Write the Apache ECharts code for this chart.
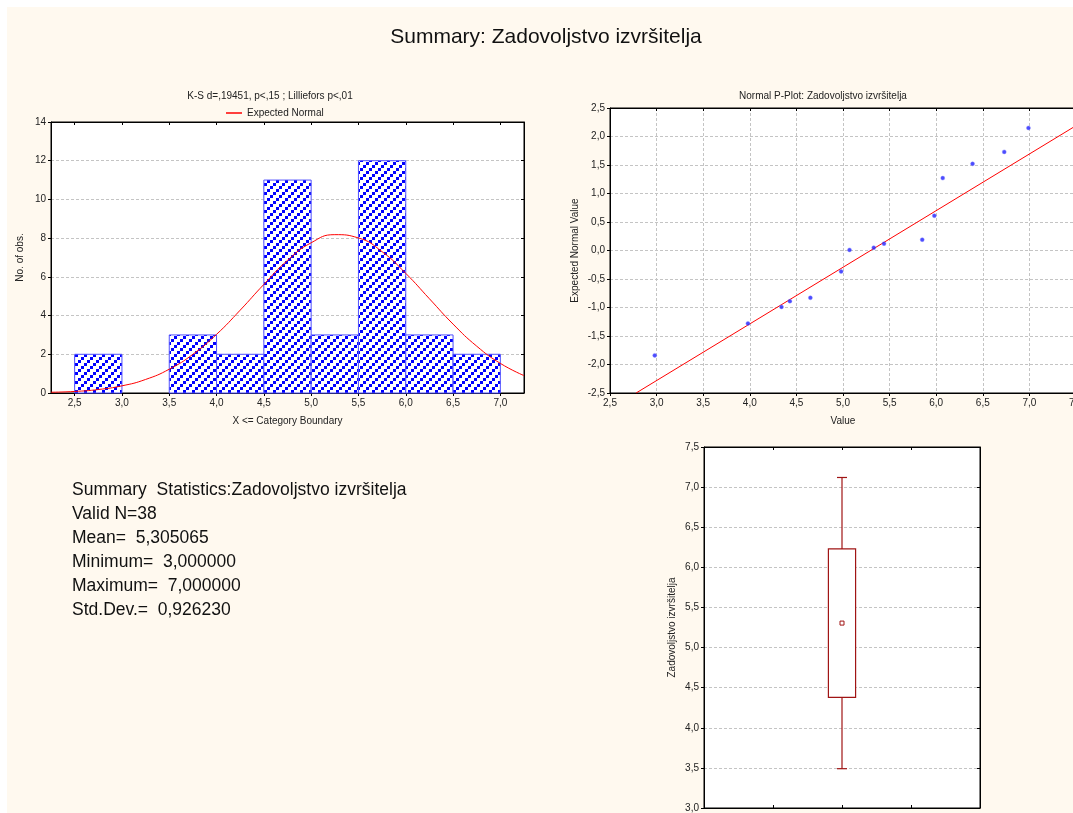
<!DOCTYPE html>
<html>
<head>
<meta charset="utf-8">
<title>Summary: Zadovoljstvo izvršitelja</title>
<script src="https://cdn.jsdelivr.net/npm/echarts@6/dist/echarts.min.js"></script>
<style>
  html, body { margin: 0; padding: 0; background: #ffffff; }
  #panel { position: absolute; left: 7px; top: 7px; right: 0; bottom: 0; background: #fff9ef; }
  #chart { position: absolute; left: 0; top: 0; width: 1073px; height: 813px; }
</style>
</head>
<body>
<div id="panel"></div>
<div id="chart"></div>
<script>
// ---- Histogram: bins of width 0,5 and observed counts ----
const binLow   = [2.5, 3.0, 3.5, 4.0, 4.5, 5.0, 5.5, 6.0, 6.5];
const binHigh  = [3.0, 3.5, 4.0, 4.5, 5.0, 5.5, 6.0, 6.5, 7.0];
const binCount = [2, 0, 3, 2, 11, 3, 12, 3, 2];

// Expected normal curve (expected counts per bin)
const curveX = [2.25, 2.5, 2.75, 3.0, 3.25, 3.5, 3.75, 4.0, 4.25, 4.5, 4.75, 5.0,
                5.25, 5.5, 5.75, 6.0, 6.25, 6.5, 6.75, 7.0, 7.25];
const curveY = [0.04, 0.08, 0.18, 0.37, 0.70, 1.23, 2.00, 3.03, 4.28, 5.61, 6.85, 7.76,
                8.18, 8.01, 7.30, 6.18, 4.87, 3.56, 2.42, 1.53, 0.90];

const histTicks = [2.5, 3.0, 3.5, 4.0, 4.5, 5.0, 5.5, 6.0, 6.5, 7.0];

// ---- Normal probability plot ----
const ppValue    = [2.98, 3.98, 4.34, 4.43, 4.65, 4.98, 5.07, 5.33, 5.44, 5.85, 5.98, 6.07, 6.39, 6.73, 6.99];
const ppExpected = [-1.84, -1.28, -0.99, -0.89, -0.83, -0.37, 0.01, 0.05, 0.12, 0.19, 0.61, 1.27, 1.52, 1.73, 2.15];
const ppLineX = [2.78, 7.5];
const ppLineY = [-2.5, 2.19];

// ---- Box plot: whisker low, box low, mean, box high, whisker high ----
const boxStats = [3.49, 4.38, 5.305, 6.23, 7.12];

// ---- Summary statistics block ----
const summaryLines = [
  'Summary  Statistics:Zadovoljstvo izvršitelja',
  'Valid N=38',
  'Mean=  5,305065',
  'Minimum=  3,000000',
  'Maximum=  7,000000',
  'Std.Dev.=  0,926230'
];

const FONT = '"Liberation Sans", Arial, sans-serif';
const comma = v => v.toFixed(1).replace('.', ',');
const GRID_LINE = { show: true, lineStyle: { color: '#c4c4c4', type: [3, 2], width: 1 } };
const AXIS_LINE = { show: true, onZero: false, lineStyle: { color: '#000', width: 1 } };
const LABEL = { color: '#222', fontSize: 10, fontFamily: FONT };
const NAME_STYLE = { color: '#222', fontSize: 10, fontFamily: FONT };

// Diagonal stepped hatch used for the histogram bars
function makeHatch() {
  const c = document.createElement('canvas');
  c.width = 9; c.height = 9;
  const g = c.getContext('2d');
  g.fillStyle = '#ffffff'; g.fillRect(0, 0, 9, 9);
  g.fillStyle = '#0000ff';
  g.fillRect(0, 6, 3, 3);
  g.fillRect(3, 3, 3, 3);
  g.fillRect(6, 0, 3, 3);
  return c;
}
const hatch = { image: makeHatch(), repeat: 'repeat' };

const histData = binCount.map((n, i) => [binLow[i], binHigh[i], n]);
const curveData = curveX.map((x, i) => [x, curveY[i]]);
const ppData = ppValue.map((x, i) => [x, ppExpected[i]]);
const ppLine = ppLineX.map((x, i) => [x, ppLineY[i]]);

function mirrorX(grid, min, max, extra) {
  return Object.assign({
    type: 'value', gridIndex: grid, position: 'top', min: min, max: max,
    axisLine: AXIS_LINE, axisLabel: { show: false },
    axisTick: { inside: true, length: 3, lineStyle: { color: '#000' } },
    splitLine: { show: false }
  }, extra || {});
}
function mirrorY(grid, min, max, interval) {
  return {
    type: 'value', gridIndex: grid, position: 'right', min: min, max: max, interval: interval,
    axisLine: AXIS_LINE, axisLabel: { show: false },
    axisTick: { inside: true, length: 3, lineStyle: { color: '#000' } },
    splitLine: { show: false }
  };
}

const option = {
  animation: false,
  textStyle: { fontFamily: FONT },
  graphic: [
    { type: 'text', x: 546, y: 37, style: { text: 'Summary: Zadovoljstvo izvršitelja', font: '21px ' + FONT, fill: '#111', textAlign: 'center', textVerticalAlign: 'middle' } },
    { type: 'text', x: 270, y: 96, style: { text: 'K-S d=,19451, p<,15 ; Lilliefors p<,01', font: '10px ' + FONT, fill: '#222', textAlign: 'center', textVerticalAlign: 'middle' } },
    { type: 'text', x: 823, y: 96, style: { text: 'Normal P-Plot: Zadovoljstvo izvršitelja', font: '10px ' + FONT, fill: '#222', textAlign: 'center', textVerticalAlign: 'middle' } }
  ].concat(summaryLines.map((t, i) => ({
    type: 'text', x: 72, y: 490 + i * 24,
    style: { text: t, font: '17.5px ' + FONT, fill: '#111', textAlign: 'left', textVerticalAlign: 'middle' }
  }))),
  legend: {
    data: [{ name: 'Expected Normal', icon: 'rect' }],
    left: 221, top: 103, itemWidth: 16, itemHeight: 1.5, itemGap: 4,
    textStyle: { fontSize: 10, color: '#222', fontFamily: FONT },
    selectedMode: false
  },
  grid: [
    { left: 51, top: 122, width: 473, height: 271, outerBoundsMode: 'none', show: true, backgroundColor: '#fff', borderColor: '#000', borderWidth: 1 },
    { left: 610, top: 108, width: 466, height: 285, outerBoundsMode: 'none', show: true, backgroundColor: '#fff', borderColor: '#000', borderWidth: 1 },
    { left: 704, top: 447, width: 276, height: 361, outerBoundsMode: 'none', show: true, backgroundColor: '#fff', borderColor: '#000', borderWidth: 1 }
  ],
  xAxis: [
    { type: 'value', gridIndex: 0, min: 2.25, max: 7.25,
      axisLine: AXIS_LINE,
      axisTick: { customValues: histTicks, length: 3, lineStyle: { color: '#000' } },
      axisLabel: Object.assign({ customValues: histTicks, formatter: comma, margin: 5 }, LABEL),
      splitLine: { show: false },
      name: 'X <= Category Boundary', nameLocation: 'middle', nameGap: 23, nameTextStyle: NAME_STYLE },
    mirrorX(0, 2.25, 7.25, { axisTick: { inside: true, length: 3, customValues: histTicks, lineStyle: { color: '#000' } } }),
    { type: 'value', gridIndex: 1, min: 2.5, max: 7.5, interval: 0.5,
      axisLine: AXIS_LINE,
      axisTick: { length: 3, lineStyle: { color: '#000' } },
      axisLabel: Object.assign({ formatter: comma, margin: 5 }, LABEL),
      splitLine: GRID_LINE,
      name: 'Value', nameLocation: 'middle', nameGap: 23, nameTextStyle: NAME_STYLE },
    mirrorX(1, 2.5, 7.5, { interval: 0.5 }),
    { type: 'value', gridIndex: 2, min: 0, max: 4, interval: 1,
      axisLine: AXIS_LINE,
      axisTick: { inside: true, length: 3, lineStyle: { color: '#000' } },
      axisLabel: { show: false }, splitLine: { show: false } },
    mirrorX(2, 0, 4, { interval: 1 })
  ],
  yAxis: [
    { type: 'value', gridIndex: 0, min: 0, max: 14, interval: 2,
      axisLine: AXIS_LINE,
      axisTick: { length: 3, lineStyle: { color: '#000' } },
      axisLabel: Object.assign({ margin: 5 }, LABEL),
      splitLine: GRID_LINE,
      name: 'No. of obs.', nameLocation: 'middle', nameGap: 26, nameRotate: 90, nameTextStyle: NAME_STYLE },
    mirrorY(0, 0, 14, 2),
    { type: 'value', gridIndex: 1, min: -2.5, max: 2.5, interval: 0.5,
      axisLine: AXIS_LINE,
      axisTick: { length: 3, lineStyle: { color: '#000' } },
      axisLabel: Object.assign({ formatter: comma, margin: 5 }, LABEL),
      splitLine: GRID_LINE,
      name: 'Expected Normal Value', nameLocation: 'middle', nameGap: 30, nameRotate: 90, nameTextStyle: NAME_STYLE },
    mirrorY(1, -2.5, 2.5, 0.5),
    { type: 'value', gridIndex: 2, min: 3, max: 7.5, interval: 0.5,
      axisLine: AXIS_LINE,
      axisTick: { length: 3, lineStyle: { color: '#000' } },
      axisLabel: Object.assign({ formatter: comma, margin: 5 }, LABEL),
      splitLine: GRID_LINE,
      name: 'Zadovoljstvo izvršitelja', nameLocation: 'middle', nameGap: 27, nameRotate: 90, nameTextStyle: NAME_STYLE },
    mirrorY(2, 3, 7.5, 0.5)
  ],
  series: [
    { type: 'custom', name: 'Histogram', xAxisIndex: 0, yAxisIndex: 0, data: histData,
      encode: { x: [0, 1], y: 2 },
      renderItem: function (params, api) {
        const n = api.value(2);
        if (!n) return null;
        const p0 = api.coord([api.value(0), n]);
        const p1 = api.coord([api.value(1), 0]);
        return {
          type: 'rect',
          shape: { x: p0[0], y: p0[1], width: p1[0] - p0[0], height: p1[1] - p0[1] },
          style: { fill: hatch, stroke: '#5050ff', lineWidth: 1 }
        };
      }
    },
    { type: 'line', name: 'Expected Normal', xAxisIndex: 0, yAxisIndex: 0, data: curveData,
      smooth: true, showSymbol: false, symbol: 'none', z: 5,
      lineStyle: { color: '#ff0000', width: 1 }, itemStyle: { color: '#ff0000' } },
    { type: 'line', name: 'Normal line', xAxisIndex: 2, yAxisIndex: 2, data: ppLine,
      showSymbol: false, symbol: 'none', clip: true,
      lineStyle: { color: '#ff0000', width: 1 } },
    { type: 'scatter', name: 'P-Plot', xAxisIndex: 2, yAxisIndex: 2, data: ppData,
      symbol: 'circle', symbolSize: 4, z: 6,
      itemStyle: { color: '#1f1fff', borderColor: '#8080ff', borderWidth: 0.5 } },
    { type: 'custom', name: 'Box', xAxisIndex: 4, yAxisIndex: 4,
      data: [[2].concat(boxStats)],
      encode: { x: 0, y: [1, 2, 3, 4, 5] },
      renderItem: function (params, api) {
        const x = api.value(0);
        const lo = api.coord([x, api.value(1)]);
        const q1 = api.coord([x, api.value(2)]);
        const mu = api.coord([x, api.value(3)]);
        const q3 = api.coord([x, api.value(4)]);
        const hi = api.coord([x, api.value(5)]);
        const half = api.size([1, 0])[0] * 0.197;
        const cap = 5;
        const col = '#a01414';
        const st = { stroke: col, lineWidth: 1.2, fill: null };
        return {
          type: 'group',
          children: [
            { type: 'line', shape: { x1: lo[0], y1: lo[1], x2: q1[0], y2: q1[1] }, style: st },
            { type: 'line', shape: { x1: q3[0], y1: q3[1], x2: hi[0], y2: hi[1] }, style: st },
            { type: 'line', shape: { x1: lo[0] - cap, y1: lo[1], x2: lo[0] + cap, y2: lo[1] }, style: st },
            { type: 'line', shape: { x1: hi[0] - cap, y1: hi[1], x2: hi[0] + cap, y2: hi[1] }, style: st },
            { type: 'rect', shape: { x: q3[0] - half, y: q3[1], width: half * 2, height: q1[1] - q3[1] },
              style: { stroke: col, lineWidth: 1.2, fill: '#ffffff' } },
            { type: 'rect', shape: { x: mu[0] - 2, y: mu[1] - 2, width: 4, height: 4 },
              style: { stroke: col, lineWidth: 1, fill: '#ffffff' } }
          ]
        };
      }
    }
  ]
};

const chart = echarts.init(document.getElementById('chart'), null, { renderer: 'canvas' });
chart.setOption(option);
</script>
</body>
</html>
